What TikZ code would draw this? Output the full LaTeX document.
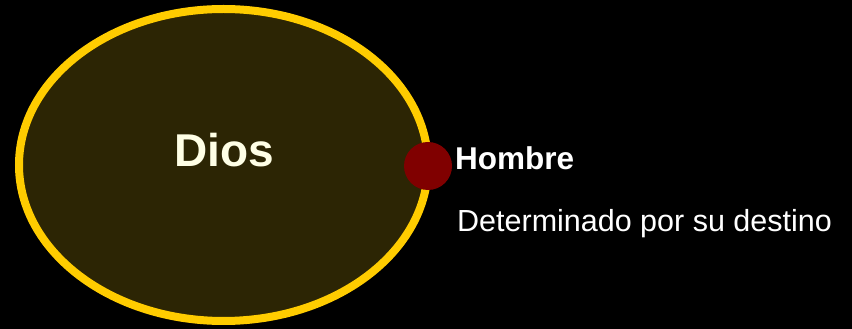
\documentclass[tikz,border=0pt]{standalone}
\usepackage{fontspec}
\setmainfont{Liberation Sans}
\usetikzlibrary{shapes.geometric}
\definecolor{godgold}{RGB}{255,204,0}
\definecolor{godfill}{RGB}{44,37,4}
\definecolor{mandot}{RGB}{128,0,0}
\definecolor{cream}{RGB}{255,255,230}
\begin{document}
\begin{tikzpicture}[x=1pt,y=1pt]
\fill[black] (0,0) rectangle (852,329);
\useasboundingbox (0,0) rectangle (852,329);
\node[draw=godgold, line width=8pt, fill=godfill, ellipse, inner sep=0pt, minimum width=409pt, minimum height=312pt] (dios) at (223.5,164) {};
\node[anchor=base west, inner sep=0pt, text=cream, font=\fontsize{46}{52}\selectfont\bfseries] (diostxt) at (174,162) {Dios};
\node[circle, fill=mandot, inner sep=0pt, minimum size=48pt] (hombre) at (428,163) {};
\node[anchor=base west, inner sep=0pt, text=white, font=\fontsize{31.5}{36}\selectfont\bfseries] (hombretxt) at (455,159) {Hombre};
\node[anchor=base west, inner sep=0pt, text=white, font=\fontsize{30.5}{36}\selectfont] (destino) at (457,97) {Determinado por su destino};
\end{tikzpicture}
\end{document}
